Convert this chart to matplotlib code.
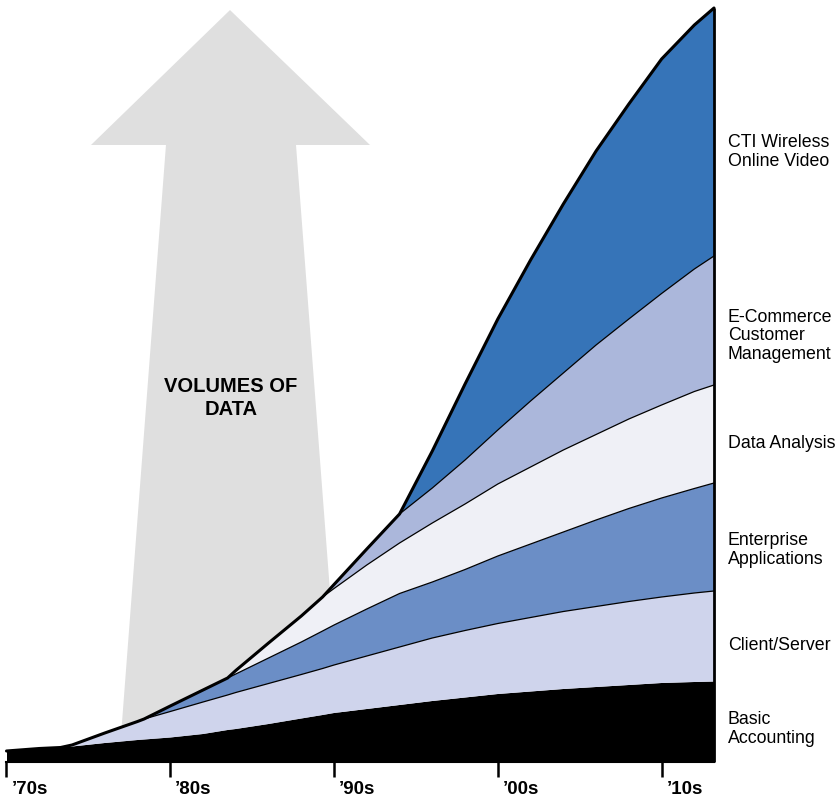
import numpy as np
import matplotlib
matplotlib.use("Agg")
import matplotlib.pyplot as plt
from matplotlib import font_manager
from matplotlib.patches import Polygon
from matplotlib.transforms import ScaledTranslation

# ── Data (relative volume) ─────────────────────
years = [1970, 1972, 1973.3, 1974, 1976, 1978, 1978.4, 1980, 1982, 1983.5,
         1984, 1986, 1988, 1989.3, 1990, 1992, 1994, 1996, 1998, 2000,
         2002, 2004, 2006, 2008, 2010, 2012, 2013.2]

basic = [11, 13.5, 14.5, 15.5, 19, 22, 22.5, 24.5, 28, 32,
         33, 38, 43.5, 47, 49, 53, 57, 61, 64.5, 68,
         70.5, 73, 75, 77, 79, 80, 80.5]
client = [0, 0, 0, 1.5, 10, 18.5, 20.5, 26, 32, 35,
          36.5, 40.5, 44, 46.5, 48, 53, 58, 63, 67, 70.5,
          74, 77.5, 80.5, 83.5, 86, 89, 90.5]
enterprise = [0, 0, 0, 0, 0, 0, 0, 5.5, 12, 17,
              18.5, 25.5, 32.5, 37.5, 40, 47, 53.5, 56, 61, 67.5,
              73.5, 79.5, 86.5, 93, 99, 104.5, 108]
analysis = [0, 0, 0, 0, 0, 0, 0, 0, 0, 0,
            3.5, 15, 26, 34, 36.5, 44, 50.5, 59, 65.5, 72,
            77, 82, 85.5, 89.5, 93, 97, 98]
ecommerce = [0, 0, 0, 0, 0, 0, 0, 0, 0, 0,
             0, 0, 0, 0, 4, 16, 29, 35, 44, 54,
             66, 77, 89.5, 100, 111.5, 122.5, 129]
cti = [0, 0, 0, 0, 0, 0, 0, 0, 0, 0,
       0, 0, 0, 0, 0, 0, 0, 37, 76, 111,
       141, 169, 194, 215, 234.5, 244, 248]

layer_names = ["Basic\nAccounting", "Client/Server", "Enterprise\nApplications",
               "Data Analysis", "E-Commerce\nCustomer\nManagement",
               "CTI Wireless\nOnline Video"]
layer_colors = ["#000000", "#cfd4ec", "#6b8ec6", "#eff0f6", "#abb7db", "#3674b8"]

decades = [1970, 1980, 1990, 2000, 2010]
decade_labels = ["\u201970s", "\u201980s", "\u201990s", "\u201900s", "\u201910s"]

# ── Layout (pixels of the 838x798 canvas) ─────────────────────────────────────
W, H = 838, 798
AX_L, AX_R, AX_TOP, AX_BOT = 6.5, 714, 8, 762
label_y_px = [729, 645, 550, 443, 336, 152]   # block centres of right-hand labels
YMAX = AX_BOT - AX_TOP

installed = {f.name for f in font_manager.fontManager.ttflist}
if "Liberation Sans Narrow" in installed:
    label_family, label_size = ["Liberation Sans Narrow", "DejaVu Sans"], 14
else:
    label_family, label_size = ["Liberation Sans", "DejaVu Sans"], 12.8
bold_family = ["Liberation Sans", "DejaVu Sans"]

fig = plt.figure(figsize=(W / 100, H / 100), dpi=100)
ax = fig.add_axes([AX_L / W, (H - AX_BOT) / H, (AX_R - AX_L) / W, YMAX / H])
ax.set_xlim(years[0], years[-1])
ax.set_ylim(0, YMAX)

# big grey arrow behind everything (axes-fraction coordinates)
arrow = Polygon([(0.3159, 0.9973), (0.5138, 0.8183), (0.4092, 0.8183),
                 (0.4756, 0.0), (0.1590, 0.0), (0.2254, 0.8183),
                 (0.1194, 0.8183)],
                closed=True, transform=ax.transAxes, facecolor="#dfdfdf",
                edgecolor="none", zorder=0)
ax.add_patch(arrow)
ax.text(0.3173, 0.4828, "VOLUMES OF\nDATA", transform=ax.transAxes,
        ha="center", va="center", fontsize=14.5, fontweight="bold",
        family=bold_family, linespacing=1.3, zorder=1)

# stacked layers
x = np.array(years, dtype=float)
layers = [basic, client, enterprise, analysis, ecommerce, cti]
stack = np.cumsum(np.array(layers, dtype=float), axis=0)
lower = np.zeros_like(x)
for i, (vals, color) in enumerate(zip(layers, layer_colors)):
    upper = stack[i]
    ax.fill_between(x, lower, upper, facecolor=color, edgecolor="none",
                    linewidth=0, zorder=2)
    v = np.array(vals, dtype=float)
    start = max(np.nonzero(v > 0)[0][0] - 1, 0)
    if 0 < i < len(layers) - 1:
        ax.plot(x[start:], upper[start:], color="black", lw=0.9, zorder=3,
                solid_joinstyle="round")
    lower = upper

# outer envelope + right edge
ax.plot(x, stack[-1], color="black", lw=2.2, zorder=4, clip_on=False,
        solid_joinstyle="round", solid_capstyle="round")
ax.plot([x[-1], x[-1]], [0, stack[-1][-1]], color="black", lw=2.0, zorder=4,
        clip_on=False, solid_capstyle="butt")

# right-hand labels
label_shift = ScaledTranslation(14 / 100, 0, fig.dpi_scale_trans)
for name, ypx in zip(layer_names, label_y_px):
    ax.text(x[-1], AX_BOT - ypx, name, transform=ax.transData + label_shift,
            ha="left", va="center", fontsize=label_size, family=label_family,
            linespacing=1.15, clip_on=False)

# axis
for side in ["top", "right", "left"]:
    ax.spines[side].set_visible(False)
ax.spines["bottom"].set_linewidth(1.5)
ax.spines["bottom"].set_bounds(years[0], years[-1])
ax.set_yticks([])
ax.set_xticks(decades, decade_labels)
ax.tick_params(axis="x", length=11, width=1.8, direction="out", pad=3,
               labelsize=13.5, colors="black")
offset = ScaledTranslation(5 / 100, 0, fig.dpi_scale_trans)
for lbl in ax.get_xticklabels():
    lbl.set_ha("left")
    lbl.set_fontweight("bold")
    lbl.set_family(bold_family)
    lbl.set_transform(lbl.get_transform() + offset)

fig.savefig("out.png", dpi=100)
